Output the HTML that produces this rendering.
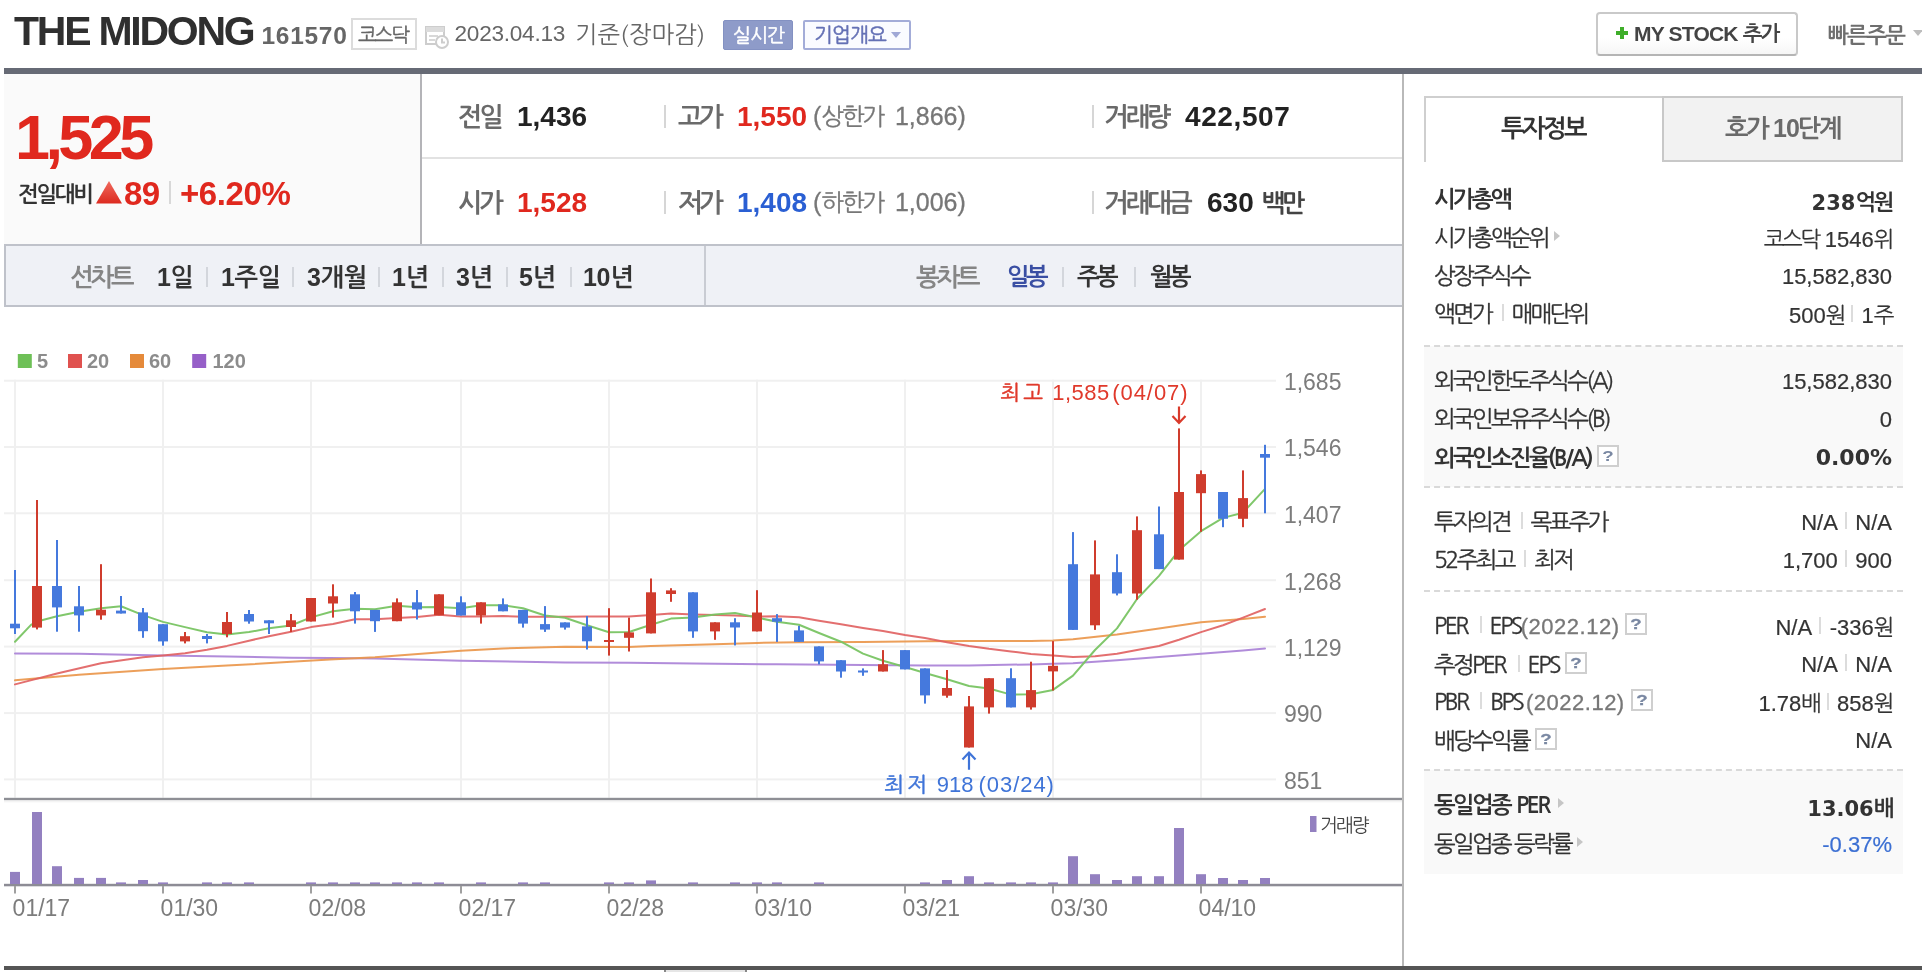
<!DOCTYPE html>
<html lang="ko">
<head>
<meta charset="utf-8">
<title>THE MIDONG : 네이버 금융</title>
<style>
html,body{margin:0;padding:0;background:#fff;}
body{width:1922px;height:972px;position:relative;overflow:hidden;will-change:transform;
  font-family:"Liberation Sans",NanumGothic,"Noto Sans CJK KR",sans-serif;color:#333;}
.a{position:absolute;white-space:nowrap;line-height:1;}
.kr{font-family:NanumGothic,"Noto Sans CJK KR",sans-serif;}
.b{font-weight:bold;-webkit-text-stroke:0 !important;}
.box{position:absolute;box-sizing:border-box;}
/* header */
#title{left:14px;top:10.5px;font-size:41px;font-weight:bold;letter-spacing:-2.25px;color:#2f2f2f;}
#code{left:261.5px;top:23.5px;font-size:24.5px;font-weight:bold;color:#666;letter-spacing:.7px;}
#kosdaq{left:351px;top:18px;width:66px;height:32px;border:2px solid #dcdcdc;background:#fff;}
#kosdaq span{left:5px;top:5px;font-size:20px;letter-spacing:-2.2px;color:#666;-webkit-text-stroke:.4px #666;}
#date{left:454.5px;top:23px;font-size:22.6px;letter-spacing:-.25px;color:#666;}
#date2{left:575px;top:22px;font-size:24px;color:#666;}
#rt{left:723px;top:20px;width:70px;height:30px;background:#8e9bc9;border:1px solid #8391c2;border-radius:2px;}
#rt span{left:9px;top:5px;font-size:19px;letter-spacing:-.7px;color:#fff;-webkit-text-stroke:.5px #fff;}
#corp{left:803px;top:20px;width:108px;height:30px;background:#fafbff;border:2px solid #a3acd8;border-radius:2px;}
#corp span{left:9px;top:3px;font-size:20px;letter-spacing:-.8px;color:#6470b5;-webkit-text-stroke:.5px #6470b5;}
#mystock{left:1596px;top:12px;width:202px;height:44px;border:2px solid #c9c9c9;border-bottom-color:#b5b5b5;background:linear-gradient(#fff 60%,#f6f6f6);border-radius:4px;}
#mystock .t{left:36px;top:9px;font-size:21px;font-weight:bold;color:#444;letter-spacing:-.8px;}
#quick{left:1828px;top:24px;font-size:22px;font-weight:bold;letter-spacing:-1.6px;color:#6e6e6e;}
#topbar{left:4px;top:68px;width:1918px;height:6px;background:#666a75;}
/* price box */
#pbox{left:4px;top:74px;width:417px;height:170px;background:#fafafa;}
#vline1{left:420px;top:74px;width:2px;height:170px;background:#b4b4b8;}
#price{left:15px;top:106px;font-size:63px;font-weight:bold;color:#e0281e;letter-spacing:-4.6px;}
#cmp{left:18px;top:183px;font-size:22px;font-weight:bold;letter-spacing:-2.3px;color:#333;}
#chg{left:124px;top:177px;font-size:33px;font-weight:bold;color:#e0281e;letter-spacing:-.5px;}
#chgsep{left:169px;top:181px;width:2px;height:23px;background:#d8d8d8;}
#pct{left:180px;top:177px;font-size:33px;font-weight:bold;color:#e0281e;letter-spacing:-.4px;}
/* quote grid */
.ql{font-size:26px;font-weight:bold;letter-spacing:-3px;color:#6a6a6a;}
.qv{font-size:28px;font-weight:bold;}
.qg{font-size:24px;color:#777;letter-spacing:-2px;margin-right:5px;}
.qgn{font-size:25px;color:#777;-webkit-text-stroke:.3px #777;}
.qsep{width:2px;height:23px;background:#d6d6d6;}
.red{color:#e0281e;} .blue{color:#2a5fd3;} .blk{color:#222;}
#rowline{left:422px;top:157px;width:980px;height:2px;background:#e2e2e2;}
/* tab bar */
#tabbar{left:4px;top:244px;width:1399px;height:63px;background:#eff1f6;border:2px solid #bfc2ca;border-right:none;}
#tabsep{left:704px;top:246px;width:2px;height:59px;background:#c9ccd3;}
.tl{font-size:25px;letter-spacing:-3px;color:#858585;top:265px;font-weight:bold;}
.tb{font-size:25px;font-weight:bold;letter-spacing:-.3px;color:#333;top:265px;margin-left:-1px;}
.tk{font-size:24px;letter-spacing:-3.5px;margin-left:0;}
.ts{width:2px;height:20px;top:267px;background:#d3d6dc;}
/* right panel */
#vline2{left:1402px;top:74px;width:2px;height:894px;background:#b9b9b9;}
#botbar{left:4px;top:966px;width:1918px;height:4px;background:#555;}
#tabA{left:1424px;top:96px;width:238px;height:66px;border:2px solid #cfcfcf;border-bottom:none;border-right:none;background:#fff;}
#tabB{left:1662px;top:96px;width:241px;height:66px;border:2px solid #c8c8c8;background:#f2f2f2;}
.sec{left:1424px;width:479px;background:#f9f9f9;}
.dot{left:1424px;width:479px;height:0;border-top:2px dashed #d9d9d9;}
.rl{left:1434px;font-size:23px;letter-spacing:-2.6px;color:#333;-webkit-text-stroke:.3px;}
.rv{right:30px;font-size:22px;color:#333;text-align:right;-webkit-text-stroke:.2px;}
.rv .k{font-family:NanumGothic,sans-serif;font-size:22px;letter-spacing:-2.4px;}
.bar{display:inline-block;width:2px;height:17px;background:#dcdcdc;margin:0 8px 0 10.5px;vertical-align:1px;}
.rv .bar{margin:0 8.5px 0 7px;}
.q{display:inline-block;box-sizing:border-box;width:22px;height:22px;border:2px solid #cfcfcf;background:#fff;vertical-align:-1px;margin-left:6px;position:relative;}
.q i{position:absolute;left:0;top:0;width:18px;text-align:center;font:bold 15px/17px "Liberation Sans",sans-serif;color:#7a88a2;letter-spacing:0;font-style:normal;transform:scaleX(1.25);}
.tri{display:inline-block;width:0;height:0;border-left:6px solid #c6c6c6;border-top:5.5px solid transparent;border-bottom:5.5px solid transparent;margin-left:6px;vertical-align:5px;}
.g{color:#777;}
.lat{font-family:"Liberation Sans",sans-serif;font-size:22px;letter-spacing:.5px;position:relative;top:-.5px;}
.tah{font-family:"DejaVu Sans","Liberation Sans",sans-serif;}
</style>
</head>
<body>
<!-- header -->
<div class="a" id="title">THE MIDONG</div>
<div class="a" id="code">161570</div>
<div class="box" id="kosdaq"><span class="a kr">코스닥</span></div>
<svg class="box" style="left:424px;top:24px" width="26" height="26" viewBox="0 0 26 26">
  <rect x="2" y="3" width="18" height="17" fill="#fff" stroke="#cdcdcd" stroke-width="2"/>
  <rect x="2" y="3" width="18" height="5" fill="#dcdcdc"/>
  <rect x="5" y="11" width="9" height="2" fill="#d8d8d8"/><rect x="5" y="15" width="6" height="2" fill="#d8d8d8"/>
  <circle cx="18" cy="18" r="6" fill="#fff" stroke="#cdcdcd" stroke-width="2"/>
  <path d="M18 14.5V18.5H21" stroke="#cdcdcd" stroke-width="2" fill="none"/>
</svg>
<div class="a" id="date">2023.04.13</div>
<div class="a kr" id="date2">기준(장마감)</div>
<div class="box" id="rt"><span class="a kr">실시간</span></div>
<div class="box" id="corp"><span class="a kr">기업개요</span><i style="position:absolute;left:86px;top:10px;border-top:6px solid #a0a8d6;border-left:5px solid transparent;border-right:5px solid transparent"></i></div>
<div class="box" id="mystock">
  <svg style="position:absolute;left:17px;top:12px" width="14" height="14" viewBox="0 0 14 14"><path d="M7 1V13M1 7H13" stroke="#3fae2a" stroke-width="4"/></svg>
  <span class="a t">MY STOCK <span class="kr" style="letter-spacing:-2px">추가</span></span>
</div>
<div class="a kr" id="quick">빠른주문</div>
<i style="position:absolute;left:1913px;top:30px;border-top:6px solid #bdbdbd;border-left:5px solid transparent;border-right:5px solid transparent"></i>
<div class="box" id="topbar"></div>

<!-- price -->
<div class="box" id="pbox"></div>
<div class="box" id="vline1"></div>
<div class="a" id="price">1,525</div>
<div class="a kr" id="cmp">전일대비</div>
<svg class="box" style="left:95px;top:180px" width="28" height="24" viewBox="0 0 28 24"><defs><linearGradient id="tg" x1="0" y1="0" x2="0" y2="1"><stop offset="0" stop-color="#f06a5e"/><stop offset="1" stop-color="#dc2a1f"/></linearGradient></defs><path d="M14 1L27 23.5H1Z" fill="url(#tg)"/></svg>
<div class="a" id="chg">89</div>
<div class="box" id="chgsep"></div>
<div class="a" id="pct">+6.20%</div>

<!-- quote grid -->
<div class="box" id="rowline"></div>
<div class="a kr ql" style="left:458px;top:104px">전일</div>
<div class="a qv blk" style="left:517px;top:103px">1,436</div>
<div class="box qsep" style="left:664px;top:105px"></div>
<div class="a kr ql" style="left:678px;top:104px">고가</div>
<div class="a qv red" style="left:737px;top:103px">1,550</div>
<div class="a qgn" style="left:813px;top:104px">(<span class="kr qg">상한가</span> 1,866)</div>
<div class="box qsep" style="left:1092px;top:105px"></div>
<div class="a kr ql" style="left:1104px;top:104px">거래량</div>
<div class="a qv blk" style="left:1185px;top:103px;letter-spacing:.6px">422,507</div>

<div class="a kr ql" style="left:458px;top:190px">시가</div>
<div class="a qv red" style="left:517px;top:189px">1,528</div>
<div class="box qsep" style="left:664px;top:191px"></div>
<div class="a kr ql" style="left:678px;top:190px">저가</div>
<div class="a qv blue" style="left:737px;top:189px">1,408</div>
<div class="a qgn" style="left:813px;top:190px">(<span class="kr qg">하한가</span> 1,006)</div>
<div class="box qsep" style="left:1092px;top:191px"></div>
<div class="a kr ql" style="left:1104px;top:190px">거래대금</div>
<div class="a qv blk" style="left:1207px;top:189px">630 <span class="kr" style="font-size:25px;letter-spacing:-3px;color:#444">백만</span></div>

<!-- tab bar -->
<div class="box" id="tabbar"></div>
<div class="box" id="tabsep"></div>
<div class="a kr tl" style="left:70px">선차트</div>
<div class="a tb" style="left:158px">1<span class="kr">일</span></div>
<div class="box ts" style="left:206px"></div>
<div class="a tb" style="left:222px">1<span class="kr">주일</span></div>
<div class="box ts" style="left:292px"></div>
<div class="a tb" style="left:308px">3<span class="kr">개월</span></div>
<div class="box ts" style="left:378px"></div>
<div class="a tb" style="left:393px">1<span class="kr">년</span></div>
<div class="box ts" style="left:442px"></div>
<div class="a tb" style="left:457px">3<span class="kr">년</span></div>
<div class="box ts" style="left:506px"></div>
<div class="a tb" style="left:520px">5<span class="kr">년</span></div>
<div class="box ts" style="left:570px"></div>
<div class="a tb" style="left:584px">10<span class="kr">년</span></div>
<div class="a kr tl" style="left:916px">봉차트</div>
<div class="a kr tb tk" style="left:1007px;color:#3a4fa3">일봉</div>
<div class="box ts" style="left:1062px"></div>
<div class="a kr tb tk" style="left:1077px">주봉</div>
<div class="box ts" style="left:1134px"></div>
<div class="a kr tb tk" style="left:1150px">월봉</div>

<svg id="chart" width="1402" height="972" viewBox="0 0 1402 972" style="position:absolute;left:0;top:0">
<rect x="4" y="379.7" width="1272" height="2" fill="#f0f0f0"/><rect x="4" y="446.0" width="1272" height="2" fill="#f0f0f0"/><rect x="4" y="512.3" width="1272" height="2" fill="#f0f0f0"/><rect x="4" y="579.2" width="1272" height="2" fill="#f0f0f0"/><rect x="4" y="645.6" width="1272" height="2" fill="#f0f0f0"/><rect x="4" y="712.1" width="1272" height="2" fill="#f0f0f0"/><rect x="4" y="778.4" width="1272" height="2" fill="#f0f0f0"/><rect x="14.0" y="379.7" width="2" height="418" fill="#f0f0f0"/><rect x="162.0" y="379.7" width="2" height="418" fill="#f0f0f0"/><rect x="310.0" y="379.7" width="2" height="418" fill="#f0f0f0"/><rect x="460.0" y="379.7" width="2" height="418" fill="#f0f0f0"/><rect x="608.0" y="379.7" width="2" height="418" fill="#f0f0f0"/><rect x="756.0" y="379.7" width="2" height="418" fill="#f0f0f0"/><rect x="904.0" y="379.7" width="2" height="418" fill="#f0f0f0"/><rect x="1052.0" y="379.7" width="2" height="418" fill="#f0f0f0"/><rect x="1200.0" y="379.7" width="2" height="418" fill="#f0f0f0"/>
<text x="1283.9" y="390.0" font-family="Liberation Sans, sans-serif" font-size="23" fill="#7c7c7c">1,685</text>
<text x="1283.9" y="456.3" font-family="Liberation Sans, sans-serif" font-size="23" fill="#7c7c7c">1,546</text>
<text x="1283.9" y="522.6" font-family="Liberation Sans, sans-serif" font-size="23" fill="#7c7c7c">1,407</text>
<text x="1283.9" y="589.5" font-family="Liberation Sans, sans-serif" font-size="23" fill="#7c7c7c">1,268</text>
<text x="1283.9" y="655.9" font-family="Liberation Sans, sans-serif" font-size="23" fill="#7c7c7c">1,129</text>
<text x="1283.9" y="722.4" font-family="Liberation Sans, sans-serif" font-size="23" fill="#7c7c7c">990</text>
<text x="1283.9" y="788.7" font-family="Liberation Sans, sans-serif" font-size="23" fill="#7c7c7c">851</text>
<polyline points="15.0,653.6 79.0,653.8 163.0,655.4 227.0,656.5 291.0,657.7 330.0,658.1 375.0,658.5 461.0,660.7 565.0,662.4 629.0,662.8 693.0,663.5 777.0,664.3 863.0,664.9 925.0,665.5 969.0,665.4 1031.0,664.4 1053.0,663.8 1073.0,663.3 1117.0,660.2 1159.0,657.1 1201.0,653.7 1243.0,650.6 1265.0,648.5" fill="none" stroke="#a97fd6" stroke-width="2" stroke-linejoin="round" stroke-linecap="round" opacity="0.9"/>
<polyline points="15.0,680.3 79.0,674.7 163.0,669.0 227.0,665.6 291.0,661.8 330.0,659.5 375.0,657.3 461.0,650.7 503.0,648.5 565.0,646.8 629.0,647.1 651.0,646.0 715.0,644.3 757.0,642.9 799.0,642.3 863.0,641.9 925.0,641.3 969.0,641.1 1031.0,641.1 1053.0,640.5 1073.0,639.2 1117.0,634.6 1159.0,628.4 1201.0,622.2 1243.0,619.1 1265.0,616.7" fill="none" stroke="#ea9548" stroke-width="2" stroke-linejoin="round" stroke-linecap="round" opacity="0.9"/>
<polyline points="15.0,684.4 57.0,673.5 101.0,663.3 143.0,657.2 163.0,655.4 185.0,653.2 207.0,649.8 227.0,645.9 249.0,640.7 269.0,636.2 291.0,631.7 311.0,627.1 333.0,624.1 355.0,619.3 375.0,619.3 397.0,618.1 417.0,616.9 439.0,614.7 461.0,616.4 481.0,616.4 503.0,616.0 523.0,616.7 545.0,616.7 565.0,616.7 587.0,616.4 609.0,616.4 629.0,616.6 651.0,615.1 671.0,613.5 693.0,614.5 715.0,615.1 735.0,615.5 757.0,616.6 777.0,616.2 799.0,617.2 819.0,620.7 841.0,624.2 863.0,627.9 883.0,631.0 905.0,635.1 925.0,638.1 947.0,642.2 969.0,645.9 989.0,648.8 1011.0,651.4 1031.0,653.9 1053.0,655.5 1073.0,657.0 1095.0,656.2 1117.0,653.7 1137.0,650.0 1159.0,646.0 1179.0,639.8 1201.0,632.1 1223.0,625.3 1243.0,617.6 1265.0,609.0" fill="none" stroke="#e05f5f" stroke-width="2" stroke-linejoin="round" stroke-linecap="round" opacity="0.9"/>
<polyline points="15.0,641.8 31.0,624.9 37.0,621.5 57.0,616.3 79.0,611.7 101.0,608.3 121.0,606.3 143.0,615.1 163.0,621.9 185.0,627.1 207.0,632.3 227.0,634.6 249.0,632.1 269.0,628.3 291.0,625.5 311.0,617.4 333.0,611.3 355.0,608.7 375.0,609.2 397.0,605.8 417.0,607.3 439.0,607.0 461.0,608.2 481.0,605.2 503.0,605.2 523.0,608.2 545.0,615.5 565.0,617.8 587.0,625.3 609.0,632.2 629.0,632.0 651.0,624.8 671.0,618.6 693.0,617.6 715.0,614.5 735.0,613.1 757.0,617.6 777.0,621.7 799.0,624.8 819.0,633.0 841.0,641.7 863.0,653.6 883.0,660.8 905.0,667.0 925.0,673.0 947.0,679.2 969.0,686.0 989.0,688.5 1011.0,694.6 1031.0,694.2 1053.0,689.9 1073.0,675.6 1095.0,650.0 1117.0,628.4 1137.0,599.0 1159.0,575.9 1179.0,550.3 1201.0,531.2 1223.0,517.9 1243.0,512.7 1265.0,488.9" fill="none" stroke="#79c463" stroke-width="2" stroke-linejoin="round" stroke-linecap="round" opacity="0.95"/>
<rect x="14.0" y="570.0" width="2" height="64.0" fill="#4579dd"/><rect x="10.0" y="623.7" width="10" height="4.6" fill="#4579dd"/>
<rect x="36.0" y="500.0" width="2" height="129.4" fill="#cf3c2d"/><rect x="32.0" y="586.0" width="10" height="41.6" fill="#cf3c2d"/>
<rect x="56.0" y="540.0" width="2" height="91.7" fill="#4579dd"/><rect x="52.0" y="586.0" width="10" height="21.4" fill="#4579dd"/>
<rect x="78.0" y="586.0" width="2" height="45.7" fill="#4579dd"/><rect x="74.0" y="606.3" width="10" height="9.1" fill="#4579dd"/>
<rect x="100.0" y="564.2" width="2" height="55.5" fill="#cf3c2d"/><rect x="96.0" y="609.7" width="10" height="5.7" fill="#cf3c2d"/>
<rect x="120.0" y="596.0" width="2" height="17.5" fill="#4579dd"/><rect x="116.0" y="610.6" width="10" height="2.9" fill="#4579dd"/>
<rect x="142.0" y="608.0" width="2" height="29.8" fill="#4579dd"/><rect x="138.0" y="612.4" width="10" height="18.8" fill="#4579dd"/>
<rect x="162.0" y="624.2" width="2" height="21.5" fill="#4579dd"/><rect x="158.0" y="624.2" width="10" height="17.2" fill="#4579dd"/>
<rect x="184.0" y="632.0" width="2" height="11.4" fill="#cf3c2d"/><rect x="180.0" y="636.2" width="10" height="5.2" fill="#cf3c2d"/>
<rect x="206.0" y="634.0" width="2" height="9.4" fill="#4579dd"/><rect x="202.0" y="636.0" width="10" height="3.0" fill="#4579dd"/>
<rect x="226.0" y="612.0" width="2" height="25.3" fill="#cf3c2d"/><rect x="222.0" y="622.0" width="10" height="12.0" fill="#cf3c2d"/>
<rect x="248.0" y="610.0" width="2" height="13.7" fill="#4579dd"/><rect x="244.0" y="614.0" width="10" height="7.5" fill="#4579dd"/>
<rect x="268.0" y="620.3" width="2" height="13.7" fill="#4579dd"/><rect x="264.0" y="620.3" width="10" height="3.0" fill="#4579dd"/>
<rect x="290.0" y="614.0" width="2" height="18.0" fill="#cf3c2d"/><rect x="286.0" y="620.3" width="10" height="6.7" fill="#cf3c2d"/>
<rect x="310.0" y="598.0" width="2" height="23.5" fill="#cf3c2d"/><rect x="306.0" y="598.0" width="10" height="23.5" fill="#cf3c2d"/>
<rect x="332.0" y="584.3" width="2" height="33.3" fill="#cf3c2d"/><rect x="328.0" y="596.3" width="10" height="7.2" fill="#cf3c2d"/>
<rect x="354.0" y="592.0" width="2" height="31.6" fill="#4579dd"/><rect x="350.0" y="594.3" width="10" height="17.0" fill="#4579dd"/>
<rect x="374.0" y="609.9" width="2" height="22.0" fill="#4579dd"/><rect x="370.0" y="609.9" width="10" height="11.3" fill="#4579dd"/>
<rect x="396.0" y="598.4" width="2" height="22.8" fill="#cf3c2d"/><rect x="392.0" y="602.3" width="10" height="18.9" fill="#cf3c2d"/>
<rect x="416.0" y="590.0" width="2" height="29.5" fill="#4579dd"/><rect x="412.0" y="602.3" width="10" height="7.2" fill="#4579dd"/>
<rect x="438.0" y="594.3" width="2" height="20.9" fill="#cf3c2d"/><rect x="434.0" y="594.3" width="10" height="20.9" fill="#cf3c2d"/>
<rect x="460.0" y="596.3" width="2" height="19.2" fill="#4579dd"/><rect x="456.0" y="602.3" width="10" height="13.2" fill="#4579dd"/>
<rect x="480.0" y="602.3" width="2" height="21.3" fill="#cf3c2d"/><rect x="476.0" y="602.3" width="10" height="13.2" fill="#cf3c2d"/>
<rect x="502.0" y="598.4" width="2" height="12.9" fill="#4579dd"/><rect x="498.0" y="604.4" width="10" height="6.9" fill="#4579dd"/>
<rect x="522.0" y="609.9" width="2" height="17.7" fill="#4579dd"/><rect x="518.0" y="609.9" width="10" height="13.7" fill="#4579dd"/>
<rect x="544.0" y="606.1" width="2" height="25.8" fill="#4579dd"/><rect x="540.0" y="624.1" width="10" height="5.5" fill="#4579dd"/>
<rect x="564.0" y="622.4" width="2" height="7.2" fill="#4579dd"/><rect x="560.0" y="622.4" width="10" height="5.2" fill="#4579dd"/>
<rect x="586.0" y="616.0" width="2" height="33.5" fill="#4579dd"/><rect x="582.0" y="626.4" width="10" height="14.9" fill="#4579dd"/>
<rect x="608.0" y="608.2" width="2" height="47.4" fill="#cf3c2d"/><rect x="604.0" y="640.0" width="10" height="2.0" fill="#cf3c2d"/>
<rect x="628.0" y="617.6" width="2" height="33.9" fill="#cf3c2d"/><rect x="624.0" y="632.4" width="10" height="5.4" fill="#cf3c2d"/>
<rect x="650.0" y="578.5" width="2" height="54.9" fill="#cf3c2d"/><rect x="646.0" y="592.3" width="10" height="41.1" fill="#cf3c2d"/>
<rect x="670.0" y="588.2" width="2" height="13.6" fill="#cf3c2d"/><rect x="666.0" y="590.4" width="10" height="3.6" fill="#cf3c2d"/>
<rect x="692.0" y="592.3" width="2" height="45.5" fill="#4579dd"/><rect x="688.0" y="592.3" width="10" height="39.1" fill="#4579dd"/>
<rect x="714.0" y="622.3" width="2" height="17.5" fill="#cf3c2d"/><rect x="710.0" y="622.3" width="10" height="9.1" fill="#cf3c2d"/>
<rect x="734.0" y="618.2" width="2" height="27.2" fill="#4579dd"/><rect x="730.0" y="622.3" width="10" height="5.2" fill="#4579dd"/>
<rect x="756.0" y="590.2" width="2" height="41.2" fill="#cf3c2d"/><rect x="752.0" y="612.5" width="10" height="18.9" fill="#cf3c2d"/>
<rect x="776.0" y="614.1" width="2" height="27.8" fill="#4579dd"/><rect x="772.0" y="618.2" width="10" height="3.5" fill="#4579dd"/>
<rect x="798.0" y="625.8" width="2" height="16.1" fill="#4579dd"/><rect x="794.0" y="630.4" width="10" height="11.5" fill="#4579dd"/>
<rect x="818.0" y="646.4" width="2" height="17.9" fill="#4579dd"/><rect x="814.0" y="646.4" width="10" height="15.0" fill="#4579dd"/>
<rect x="840.0" y="660.2" width="2" height="17.5" fill="#4579dd"/><rect x="836.0" y="660.2" width="10" height="11.3" fill="#4579dd"/>
<rect x="862.0" y="668.4" width="2" height="7.4" fill="#4579dd"/><rect x="858.0" y="670.5" width="10" height="2.0" fill="#4579dd"/>
<rect x="882.0" y="650.1" width="2" height="21.4" fill="#cf3c2d"/><rect x="878.0" y="664.3" width="10" height="7.2" fill="#cf3c2d"/>
<rect x="904.0" y="650.1" width="2" height="19.3" fill="#4579dd"/><rect x="900.0" y="650.1" width="10" height="19.3" fill="#4579dd"/>
<rect x="924.0" y="668.4" width="2" height="35.2" fill="#4579dd"/><rect x="920.0" y="668.4" width="10" height="27.0" fill="#4579dd"/>
<rect x="946.0" y="670.0" width="2" height="27.7" fill="#cf3c2d"/><rect x="942.0" y="688.0" width="10" height="7.7" fill="#cf3c2d"/>
<rect x="968.0" y="696.0" width="2" height="51.5" fill="#cf3c2d"/><rect x="964.0" y="706.4" width="10" height="41.1" fill="#cf3c2d"/>
<rect x="988.0" y="678.2" width="2" height="35.4" fill="#cf3c2d"/><rect x="984.0" y="678.2" width="10" height="29.2" fill="#cf3c2d"/>
<rect x="1010.0" y="668.3" width="2" height="39.1" fill="#4579dd"/><rect x="1006.0" y="678.2" width="10" height="29.2" fill="#4579dd"/>
<rect x="1030.0" y="661.7" width="2" height="47.9" fill="#cf3c2d"/><rect x="1026.0" y="690.1" width="10" height="17.3" fill="#cf3c2d"/>
<rect x="1052.0" y="641.1" width="2" height="49.4" fill="#cf3c2d"/><rect x="1048.0" y="665.8" width="10" height="5.6" fill="#cf3c2d"/>
<rect x="1072.0" y="532.1" width="2" height="97.8" fill="#4579dd"/><rect x="1068.0" y="564.2" width="10" height="65.7" fill="#4579dd"/>
<rect x="1094.0" y="540.4" width="2" height="89.5" fill="#cf3c2d"/><rect x="1090.0" y="574.4" width="10" height="50.9" fill="#cf3c2d"/>
<rect x="1116.0" y="554.3" width="2" height="41.1" fill="#4579dd"/><rect x="1112.0" y="572.2" width="10" height="21.3" fill="#4579dd"/>
<rect x="1136.0" y="516.4" width="2" height="83.3" fill="#cf3c2d"/><rect x="1132.0" y="530.2" width="10" height="63.3" fill="#cf3c2d"/>
<rect x="1158.0" y="506.5" width="2" height="62.6" fill="#4579dd"/><rect x="1154.0" y="534.3" width="10" height="34.8" fill="#4579dd"/>
<rect x="1178.0" y="428.4" width="2" height="131.2" fill="#cf3c2d"/><rect x="1174.0" y="492.0" width="10" height="67.6" fill="#cf3c2d"/>
<rect x="1200.0" y="470.4" width="2" height="61.4" fill="#cf3c2d"/><rect x="1196.0" y="474.1" width="10" height="19.1" fill="#cf3c2d"/>
<rect x="1222.0" y="492.0" width="2" height="35.2" fill="#4579dd"/><rect x="1218.0" y="492.0" width="10" height="26.8" fill="#4579dd"/>
<rect x="1242.0" y="470.4" width="2" height="56.8" fill="#cf3c2d"/><rect x="1238.0" y="498.1" width="10" height="20.7" fill="#cf3c2d"/>
<rect x="1264.0" y="444.8" width="2" height="68.5" fill="#4579dd"/><rect x="1260.0" y="454.0" width="10" height="3.7" fill="#4579dd"/>
<text y="400" font-family="Liberation Sans, NanumGothic, sans-serif" font-size="22" fill="#e0392b"><tspan x="1000.3" font-size="21" letter-spacing="3.2" stroke="#e0392b" stroke-width="0.5">최고</tspan><tspan x="1052.3" letter-spacing="0.45">1,585</tspan><tspan x="1112.2" letter-spacing="0.95">(04/07)</tspan></text>
<path d="M1179 406.5V422.5M1172.5 416L1179 423L1185.5 416" stroke="#d93a2b" stroke-width="2.2" fill="none"/>
<text y="791.7" font-family="Liberation Sans, NanumGothic, sans-serif" font-size="22" fill="#3f74d8"><tspan x="884.3" font-size="21" letter-spacing="3.2" stroke="#3f74d8" stroke-width="0.5">최저</tspan><tspan x="936.8">918</tspan><tspan x="978.5" letter-spacing="0.95">(03/24)</tspan></text>
<path d="M969 769.7V753M962.5 759.5L969 752.5L975.5 759.5" stroke="#3f74d8" stroke-width="2.2" fill="none"/>
<rect x="4" y="797.8" width="1398" height="2.6" fill="#8e8f95"/><rect x="4" y="800.4" width="1398" height="2" fill="#f4f4f4"/>
<rect x="4" y="883.8" width="1398" height="2.5" fill="#8d8c95"/>
<rect x="10.0" y="871.9" width="10" height="12.1" fill="#9380c0"/>
<rect x="32.0" y="812.0" width="10" height="72.0" fill="#9380c0"/>
<rect x="52.0" y="866.2" width="10" height="17.8" fill="#9380c0"/>
<rect x="74.0" y="877.9" width="10" height="6.1" fill="#9380c0"/>
<rect x="96.0" y="877.9" width="10" height="6.1" fill="#9380c0"/>
<rect x="116.0" y="882.4" width="10" height="1.6" fill="#9380c0"/>
<rect x="138.0" y="880.0" width="10" height="4.0" fill="#9380c0"/>
<rect x="158.0" y="882.4" width="10" height="1.6" fill="#9380c0"/>
<rect x="202.0" y="882.4" width="10" height="1.6" fill="#9380c0"/>
<rect x="222.0" y="882.4" width="10" height="1.6" fill="#9380c0"/>
<rect x="244.0" y="882.4" width="10" height="1.6" fill="#9380c0"/>
<rect x="306.0" y="882.4" width="10" height="1.6" fill="#9380c0"/>
<rect x="328.0" y="882.4" width="10" height="1.6" fill="#9380c0"/>
<rect x="350.0" y="882.4" width="10" height="1.6" fill="#9380c0"/>
<rect x="370.0" y="882.4" width="10" height="1.6" fill="#9380c0"/>
<rect x="392.0" y="882.4" width="10" height="1.6" fill="#9380c0"/>
<rect x="412.0" y="882.4" width="10" height="1.6" fill="#9380c0"/>
<rect x="434.0" y="882.4" width="10" height="1.6" fill="#9380c0"/>
<rect x="476.0" y="882.4" width="10" height="1.6" fill="#9380c0"/>
<rect x="518.0" y="882.4" width="10" height="1.6" fill="#9380c0"/>
<rect x="540.0" y="882.4" width="10" height="1.6" fill="#9380c0"/>
<rect x="604.0" y="882.4" width="10" height="1.6" fill="#9380c0"/>
<rect x="624.0" y="882.4" width="10" height="1.6" fill="#9380c0"/>
<rect x="646.0" y="880.4" width="10" height="3.6" fill="#9380c0"/>
<rect x="688.0" y="882.4" width="10" height="1.6" fill="#9380c0"/>
<rect x="730.0" y="882.4" width="10" height="1.6" fill="#9380c0"/>
<rect x="752.0" y="882.4" width="10" height="1.6" fill="#9380c0"/>
<rect x="772.0" y="882.4" width="10" height="1.6" fill="#9380c0"/>
<rect x="814.0" y="882.4" width="10" height="1.6" fill="#9380c0"/>
<rect x="920.0" y="882.4" width="10" height="1.6" fill="#9380c0"/>
<rect x="942.0" y="880.0" width="10" height="4.0" fill="#9380c0"/>
<rect x="964.0" y="876.2" width="10" height="7.8" fill="#9380c0"/>
<rect x="984.0" y="882.4" width="10" height="1.6" fill="#9380c0"/>
<rect x="1006.0" y="882.4" width="10" height="1.6" fill="#9380c0"/>
<rect x="1026.0" y="882.4" width="10" height="1.6" fill="#9380c0"/>
<rect x="1048.0" y="882.4" width="10" height="1.6" fill="#9380c0"/>
<rect x="1068.0" y="856.2" width="10" height="27.8" fill="#9380c0"/>
<rect x="1090.0" y="874.2" width="10" height="9.8" fill="#9380c0"/>
<rect x="1112.0" y="880.0" width="10" height="4.0" fill="#9380c0"/>
<rect x="1132.0" y="876.2" width="10" height="7.8" fill="#9380c0"/>
<rect x="1154.0" y="876.2" width="10" height="7.8" fill="#9380c0"/>
<rect x="1174.0" y="828.0" width="10" height="56.0" fill="#9380c0"/>
<rect x="1196.0" y="874.2" width="10" height="9.8" fill="#9380c0"/>
<rect x="1218.0" y="878.0" width="10" height="6.0" fill="#9380c0"/>
<rect x="1238.0" y="880.0" width="10" height="4.0" fill="#9380c0"/>
<rect x="1260.0" y="878.0" width="10" height="6.0" fill="#9380c0"/>
<rect x="14.0" y="886" width="2" height="7.5" fill="#a0a0a0"/>
<text x="12.6" y="916" font-family="Liberation Sans, sans-serif" font-size="23" fill="#7c7c7c">01/17</text>
<rect x="162.0" y="886" width="2" height="7.5" fill="#a0a0a0"/>
<text x="160.6" y="916" font-family="Liberation Sans, sans-serif" font-size="23" fill="#7c7c7c">01/30</text>
<rect x="310.0" y="886" width="2" height="7.5" fill="#a0a0a0"/>
<text x="308.6" y="916" font-family="Liberation Sans, sans-serif" font-size="23" fill="#7c7c7c">02/08</text>
<rect x="460.0" y="886" width="2" height="7.5" fill="#a0a0a0"/>
<text x="458.6" y="916" font-family="Liberation Sans, sans-serif" font-size="23" fill="#7c7c7c">02/17</text>
<rect x="608.0" y="886" width="2" height="7.5" fill="#a0a0a0"/>
<text x="606.6" y="916" font-family="Liberation Sans, sans-serif" font-size="23" fill="#7c7c7c">02/28</text>
<rect x="756.0" y="886" width="2" height="7.5" fill="#a0a0a0"/>
<text x="754.6" y="916" font-family="Liberation Sans, sans-serif" font-size="23" fill="#7c7c7c">03/10</text>
<rect x="904.0" y="886" width="2" height="7.5" fill="#a0a0a0"/>
<text x="902.6" y="916" font-family="Liberation Sans, sans-serif" font-size="23" fill="#7c7c7c">03/21</text>
<rect x="1052.0" y="886" width="2" height="7.5" fill="#a0a0a0"/>
<text x="1050.6" y="916" font-family="Liberation Sans, sans-serif" font-size="23" fill="#7c7c7c">03/30</text>
<rect x="1200.0" y="886" width="2" height="7.5" fill="#a0a0a0"/>
<text x="1198.6" y="916" font-family="Liberation Sans, sans-serif" font-size="23" fill="#7c7c7c">04/10</text>
<rect x="1310" y="816" width="6.5" height="16" fill="#9380c0"/>
<text x="1320" y="832" font-family="NanumGothic, sans-serif" font-size="19" letter-spacing="-2" fill="#444">거래량</text>
<rect x="17.8" y="354" width="14" height="14" fill="#6ec057"/><text x="37" y="368" font-family="Liberation Sans, sans-serif" font-weight="bold" font-size="20" fill="#8c8c8c">5</text>
<rect x="68" y="354" width="14" height="14" fill="#e0524f"/><text x="87" y="368" font-family="Liberation Sans, sans-serif" font-weight="bold" font-size="20" fill="#8c8c8c">20</text>
<rect x="130" y="354" width="14" height="14" fill="#e58a3a"/><text x="149" y="368" font-family="Liberation Sans, sans-serif" font-weight="bold" font-size="20" fill="#8c8c8c">60</text>
<rect x="192.2" y="354" width="14" height="14" fill="#965fc8"/><text x="212.5" y="368" font-family="Liberation Sans, sans-serif" font-weight="bold" font-size="20" fill="#8c8c8c">120</text>
</svg>

<!-- right panel -->
<div class="box" id="vline2"></div>
<div class="box" id="tabB"></div>
<div class="box" id="tabA"></div>
<div class="a kr b" style="left:1501px;top:116px;font-size:25px;letter-spacing:-2.5px;color:#333">투자정보</div>
<div class="a b" style="left:1725px;top:116px;font-size:25px;letter-spacing:-2.5px;color:#6a6a6a"><span class="kr">호가</span><span style="letter-spacing:-1px;margin:0 -1px 0 6px">10</span><span class="kr">단계</span></div>

<div class="box sec" style="top:346px;height:141px"></div>
<div class="box sec" style="top:770px;height:104px"></div>
<div class="box dot" style="top:345px"></div>
<div class="box dot" style="top:486px"></div>
<div class="box dot" style="top:590px"></div>
<div class="box dot" style="top:769px"></div>

<div class="a kr rl b" style="top:188px">시가총액</div>
<div class="a rv b" style="top:191px"><span class="tah" style="font-size:21px">238</span><span class="k">억원</span></div>
<div class="a kr rl" style="top:226px">시가총액순위<i class="tri"></i></div>
<div class="a rv" style="top:228px"><span class="k">코스닥</span> 1546<span class="k">위</span></div>
<div class="a kr rl" style="top:264px">상장주식수</div>
<div class="a rv" style="top:266px">15,582,830</div>
<div class="a kr rl" style="top:302px">액면가<i class="bar"></i>매매단위</div>
<div class="a rv" style="top:304px">500<span class="k">원</span><i class="bar"></i>1<span class="k">주</span></div>

<div class="a kr rl" style="top:369px">외국인한도주식수(A)</div>
<div class="a rv" style="top:371px">15,582,830</div>
<div class="a kr rl" style="top:407px">외국인보유주식수(B)</div>
<div class="a rv" style="top:409px">0</div>
<div class="a kr rl b" style="top:445px">외국인소진율(B/A)<i class="q"><i>?</i></i></div>
<div class="a rv b tah" style="top:447px;font-size:22px">0.00%</div>

<div class="a kr rl" style="top:510px">투자의견<i class="bar"></i>목표주가</div>
<div class="a rv" style="top:512px">N/A<i class="bar"></i>N/A</div>
<div class="a kr rl" style="top:548px">52주최고<i class="bar"></i>최저</div>
<div class="a rv" style="top:550px">1,700<i class="bar"></i>900</div>

<div class="a kr rl" style="top:613px">PER<i class="bar" style="margin-left:12.5px"></i>EPS<span class="g lat">(2022.12)</span><i class="q"><i>?</i></i></div>
<div class="a rv" style="top:616px">N/A<i class="bar"></i>-336<span class="k">원</span></div>
<div class="a kr rl" style="top:652px">추정PER<i class="bar" style="margin-left:12.5px"></i>EPS<i class="q"><i>?</i></i></div>
<div class="a rv" style="top:654px">N/A<i class="bar"></i>N/A</div>
<div class="a kr rl" style="top:689px">PBR<i class="bar" style="margin-left:12.5px"></i>BPS <span class="g lat">(2022.12)</span><i class="q"><i>?</i></i></div>
<div class="a rv" style="top:692px">1.78<span class="k">배</span><i class="bar"></i>858<span class="k">원</span></div>
<div class="a kr rl" style="top:728px">배당수익률<i class="q"><i>?</i></i></div>
<div class="a rv" style="top:730px">N/A</div>

<div class="a kr rl b" style="top:794px">동일업종 <span style="margin-left:2px">PER</span><i class="tri" style="margin-left:9px"></i></div>
<div class="a rv b" style="top:797px"><span class="tah" style="font-size:21px">13.06</span><span class="k">배</span></div>
<div class="a kr rl" style="top:832px">동일업종 등락률<i class="tri"></i></div>
<div class="a rv" style="top:834px;color:#3b6fd3">-0.37%</div>

<div class="box" id="botbar"></div>
<div class="box" style="left:664px;top:970px;width:83px;height:2px;background:#e6e6e6;border-left:2px solid #888;border-right:2px solid #888"></div>
</body>
</html>
